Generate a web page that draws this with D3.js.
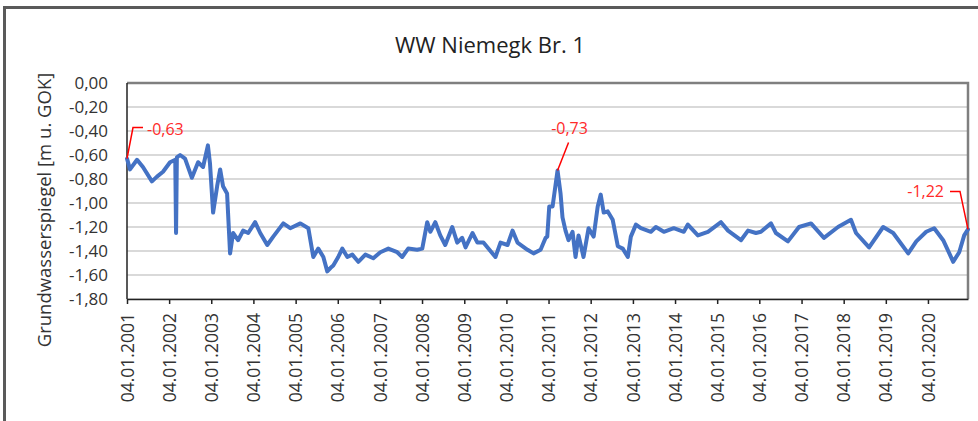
<!DOCTYPE html>
<html>
	<head>
		<title>WW Niemegk Br. 1</title>
		<style type="text/css">
			body {
				margin: 0px;
				background-color: #fff;
			}
			text {
				font-family: "Open Sans", sans-serif;
			}
		</style>
		<script src="https://d3js.org/d3.v7.min.js" charset="utf-8"></script>
	</head>
	<body>
		<script type="text/javascript">
			var dates = [
				"2001-01-04", "2001-01-30", "2001-04-01", "2001-05-22", "2001-08-08", "2001-09-21", "2001-11-12",
				"2002-01-12", "2002-02-26", "2002-03-05", "2002-03-12", "2002-04-09", "2002-05-22", "2002-07-20",
				"2002-09-12", "2002-10-25", "2002-12-06", "2002-12-24", "2003-01-20", "2003-02-24", "2003-03-22",
				"2003-04-16", "2003-05-21", "2003-06-16", "2003-07-12", "2003-08-24", "2003-10-07", "2003-11-20",
				"2004-01-19", "2004-03-03", "2004-05-03", "2004-06-24", "2004-09-19", "2004-11-18", "2005-02-14",
				"2005-04-24", "2005-06-06", "2005-07-19", "2005-09-01", "2005-10-05", "2005-11-03", "2005-11-26",
				"2006-01-08", "2006-02-12", "2006-03-28", "2006-05-10", "2006-07-01", "2006-08-31", "2006-11-08",
				"2007-01-08", "2007-03-18", "2007-06-03", "2007-07-16", "2007-09-06", "2007-11-23", "2008-01-06",
				"2008-02-18", "2008-03-16", "2008-04-28", "2008-06-10", "2008-07-23", "2008-09-22", "2008-11-04",
				"2008-12-17", "2009-01-15", "2009-03-16", "2009-04-28", "2009-06-19", "2009-08-01", "2009-10-01",
				"2009-11-14", "2010-01-14", "2010-02-26", "2010-04-10", "2010-07-06", "2010-08-27", "2010-10-27",
				"2010-12-10", "2010-12-24", "2011-01-10", "2011-02-08", "2011-03-23", "2011-04-18", "2011-05-05",
				"2011-05-31", "2011-06-26", "2011-07-31", "2011-08-26", "2011-09-21", "2011-11-03", "2011-12-17",
				"2012-01-30", "2012-03-05", "2012-03-31", "2012-04-26", "2012-05-31", "2012-07-13", "2012-08-26",
				"2012-10-08", "2012-11-21", "2012-12-17", "2013-01-30", "2013-03-14", "2013-06-09", "2013-07-22",
				"2013-09-29", "2013-12-24", "2014-03-21", "2014-04-25", "2014-07-21", "2014-10-16", "2015-02-06",
				"2015-04-08", "2015-07-29", "2015-09-28", "2015-12-06", "2016-01-18", "2016-04-14", "2016-05-27",
				"2016-09-08", "2016-12-13", "2017-03-27", "2017-07-17", "2017-11-16", "2018-03-08", "2018-04-21",
				"2018-08-12", "2018-12-12", "2019-03-09", "2019-07-17", "2019-09-25", "2019-12-20", "2020-02-27",
				"2020-05-15", "2020-08-10", "2020-10-01", "2020-11-13", "2020-12-16"
			];
			var levels = [
				-0.63, -0.72, -0.64, -0.70, -0.82, -0.78, -0.74,
				-0.66, -0.64, -1.25, -0.62, -0.60, -0.63, -0.79,
				-0.66, -0.70, -0.52, -0.67, -1.08, -0.86, -0.72,
				-0.86, -0.92, -1.42, -1.25, -1.31, -1.23, -1.25,
				-1.16, -1.25, -1.35, -1.28, -1.17, -1.21, -1.17,
				-1.21, -1.45, -1.38, -1.45, -1.57, -1.54, -1.52,
				-1.45, -1.38, -1.45, -1.43, -1.49, -1.43, -1.46,
				-1.41, -1.38, -1.41, -1.45, -1.38, -1.39, -1.38,
				-1.16, -1.24, -1.16, -1.27, -1.35, -1.20, -1.33,
				-1.29, -1.37, -1.25, -1.33, -1.33, -1.38, -1.45,
				-1.33, -1.35, -1.23, -1.33, -1.39, -1.42, -1.39,
				-1.29, -1.28, -1.03, -1.03, -0.73, -0.92, -1.12,
				-1.23, -1.31, -1.24, -1.45, -1.27, -1.45, -1.21,
				-1.28, -1.03, -0.93, -1.08, -1.07, -1.14, -1.36,
				-1.38, -1.45, -1.28, -1.18, -1.21, -1.24, -1.20,
				-1.24, -1.21, -1.24, -1.18, -1.27, -1.24, -1.16,
				-1.23, -1.31, -1.23, -1.25, -1.24, -1.17, -1.25,
				-1.32, -1.20, -1.17, -1.29, -1.20, -1.14, -1.25,
				-1.37, -1.20, -1.25, -1.42, -1.32, -1.24, -1.21,
				-1.31, -1.49, -1.41, -1.27, -1.22
			];
			var yTicks = [0, -0.2, -0.4, -0.6, -0.8, -1.0, -1.2, -1.4, -1.6, -1.8];
			var xTickLabels = [
				"04.01.2001", "04.01.2002", "04.01.2003", "04.01.2004", "04.01.2005",
				"04.01.2006", "04.01.2007", "04.01.2008", "04.01.2009", "04.01.2010",
				"04.01.2011", "04.01.2012", "04.01.2013", "04.01.2014", "04.01.2015",
				"04.01.2016", "04.01.2017", "04.01.2018", "04.01.2019", "04.01.2020"
			];
			// labelled points: first value, highest value in 2011, last value
			var markedIndex = [0, 81, dates.length - 1];

			var parseDate = d3.timeParse("%Y-%m-%d");
			var parseTick = d3.timeParse("%d.%m.%Y");
			var deFormat = d3.formatLocale({decimal: ",", thousands: ".", grouping: [3], currency: ["", " €"], minus: "-"}).format(".2f");

			var data = dates.map(function(d, i) {
				return {date: parseDate(d), value: levels[i]};
			});

			var svg = d3.select("body").append("svg")
				.attr("width", 978)
				.attr("height", 421);

			svg.append("rect")
				.attr("width", 978)
				.attr("height", 421)
				.style("fill", "#fff");

			// outer chart frame (only left and top edge are inside the picture)
			svg.append("path")
				.attr("d", "M4.5,421V7.5H978")
				.style("fill", "none")
				.style("stroke", "#5a5a5a")
				.style("stroke-width", 3);

			var x = d3.scaleTime()
				.domain([parseDate("2001-01-04"), parseDate("2020-12-16")])
				.range([127, 968]);
			var y = d3.scaleLinear()
				.domain([-1.8, 0])
				.range([299, 83]);

			// gridlines
			svg.selectAll(".grid")
				.data(yTicks)
				.enter()
					.append("line")
					.attr("class", "grid")
					.attr("x1", x.range()[0])
					.attr("x2", x.range()[1])
					.attr("y1", function(d) { return y(d); })
					.attr("y2", function(d) { return y(d); })
					.style("stroke", "#d9d9d9")
					.style("stroke-width", 2);

			// plot area border
			svg.append("path")
				.attr("d", "M" + x.range()[0] + "," + y(0) + "H" + x.range()[1] + "V" + y(-1.8))
				.style("fill", "none")
				.style("stroke", "#7f7f7f")
				.style("stroke-width", 2.5);

			// y axis
			svg.append("line")
				.attr("x1", x.range()[0])
				.attr("x2", x.range()[0])
				.attr("y1", y(0))
				.attr("y2", y(-1.8))
				.style("stroke", "#222")
				.style("stroke-width", 1.5);
			svg.selectAll(".ylabel")
				.data(yTicks)
				.enter()
					.append("text")
					.attr("class", "ylabel")
					.attr("x", 108)
					.attr("y", function(d) { return y(d); })
					.attr("dy", "0.35em")
					.attr("text-anchor", "end")
					.style("font-size", "17px")
					.style("fill", "#333")
					.text(function(d) { return d === 0 ? "0,00" : deFormat(d); });

			// x axis
			var xAxis = d3.axisBottom(x)
				.tickValues(xTickLabels.map(parseTick))
				.tickFormat(d3.timeFormat("%d.%m.%Y"))
				.tickSize(5)
				.tickSizeOuter(0);
			var gx = svg.append("g")
				.attr("transform", "translate(0," + y(-1.8) + ")")
				.call(xAxis);
			gx.select(".domain")
				.style("stroke", "#222")
				.style("stroke-width", 1.5);
			gx.selectAll(".tick line")
				.style("stroke", "#222")
				.style("stroke-width", 1.5);
			gx.selectAll(".tick text")
				.attr("transform", "rotate(-90)")
				.attr("x", -14)
				.attr("y", 0)
				.attr("dy", "0.35em")
				.attr("text-anchor", "end")
				.style("font-family", "'Open Sans', sans-serif")
				.style("font-size", "17.5px")
				.style("fill", "#333");

			// series
			var line = d3.line()
				.x(function(d) { return x(d.date); })
				.y(function(d) { return y(d.value); });
			svg.append("path")
				.datum(data)
				.attr("d", line)
				.style("fill", "none")
				.style("stroke", "#4472c4")
				.style("stroke-width", 4)
				.style("stroke-linejoin", "round")
				.style("stroke-linecap", "round");

			// data labels with leader lines
			var labelOffsets = [
				{leader: [[6, -31], [16, -31]], tx: 20, ty: -29, anchor: "start"},
				{leader: [[11, -28]], tx: 12, ty: -42, anchor: "middle"},
				{leader: [[-8, -38], [-18, -38]], tx: -24, ty: -38, anchor: "end"}
			];
			markedIndex.forEach(function(idx, i) {
				var d = data[idx];
				var px = x(d.date);
				var py = y(d.value);
				var off = labelOffsets[i];
				var pts = [[px, py]].concat(off.leader.map(function(p) { return [px + p[0], py + p[1]]; }));
				svg.append("path")
					.attr("d", d3.line()(pts))
					.style("fill", "none")
					.style("stroke", "#ff0000")
					.style("stroke-width", 1.5);
				svg.append("text")
					.attr("x", px + off.tx)
					.attr("y", py + off.ty)
					.attr("dy", "0.35em")
					.attr("text-anchor", off.anchor)
					.style("font-size", "16px")
					.style("fill", "#ff2a2a")
					.text(deFormat(d.value));
			});

			// titles
			svg.append("text")
				.attr("x", 490)
				.attr("y", 45)
				.attr("dy", "0.35em")
				.attr("text-anchor", "middle")
				.style("font-size", "22px")
				.style("fill", "#222")
				.text("WW Niemegk Br. 1");
			svg.append("text")
				.attr("transform", "translate(45,210) rotate(-90)")
				.attr("dy", "0.35em")
				.attr("text-anchor", "middle")
				.style("font-size", "18.5px")
				.style("fill", "#333")
				.text("Grundwasserspiegel [m u. GOK]");
		</script>
	</body>
</html>
